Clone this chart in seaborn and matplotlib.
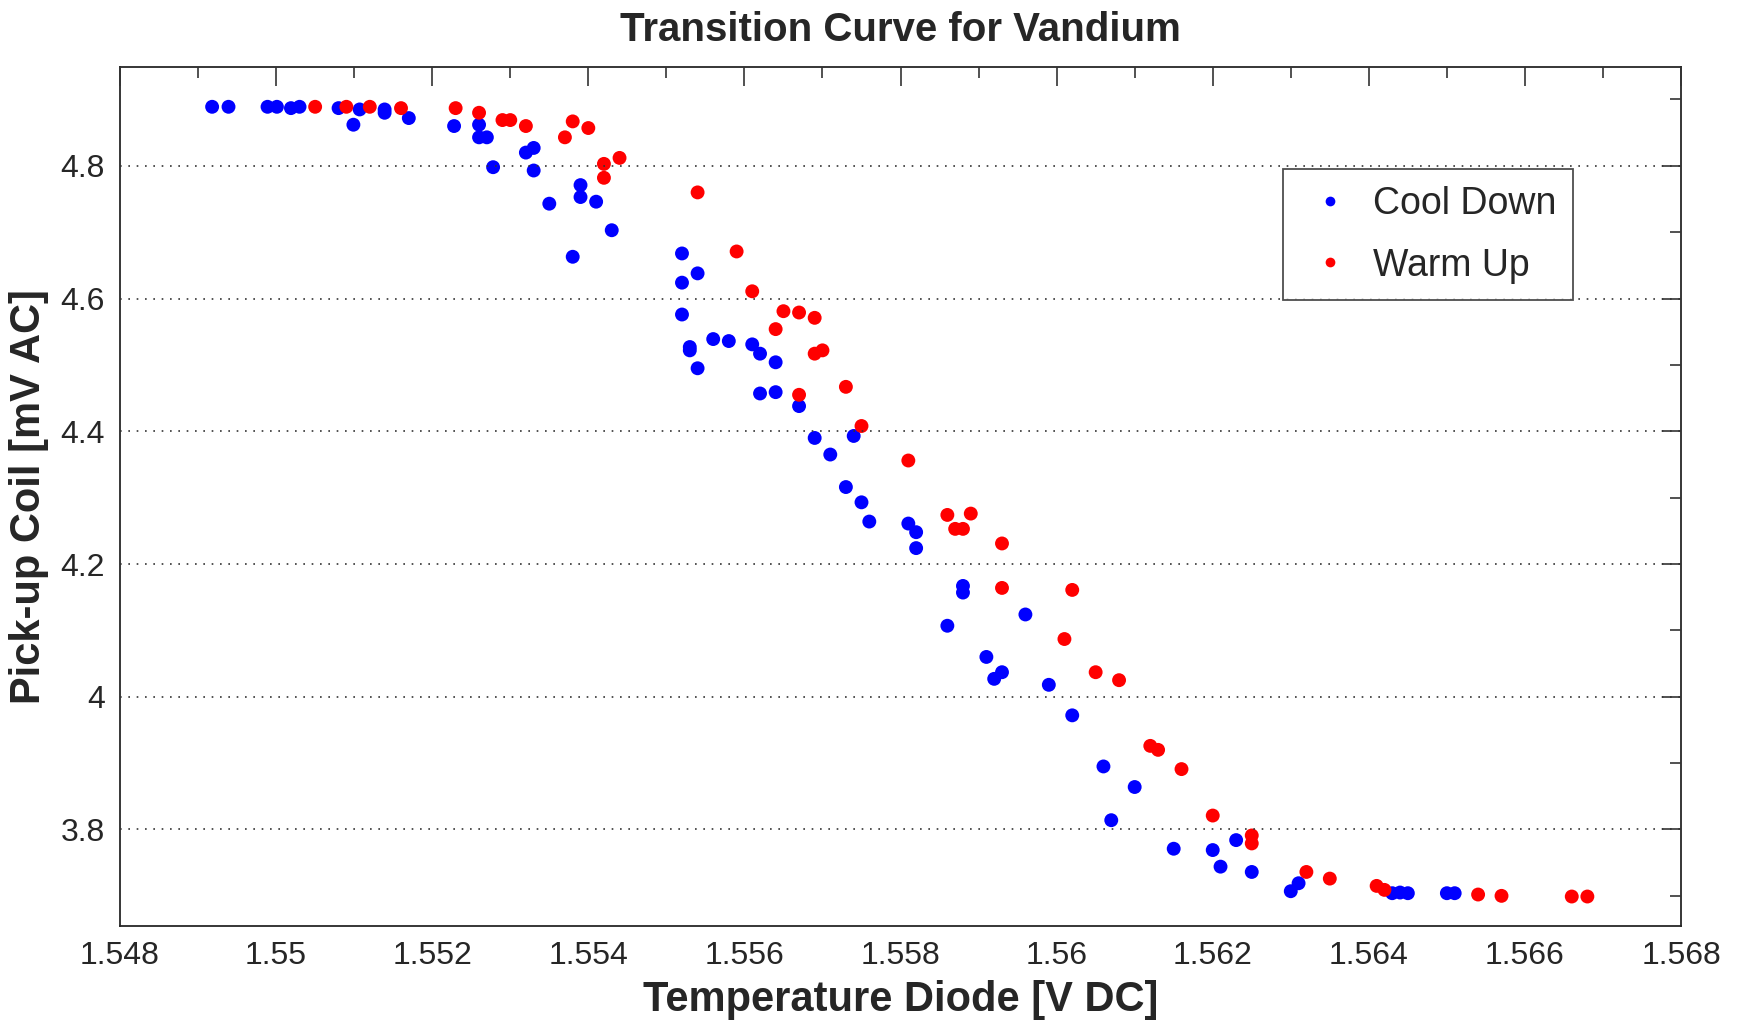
import numpy as np
import pandas as pd
import matplotlib
matplotlib.use("Agg")
import matplotlib.pyplot as plt
import seaborn as sns
from matplotlib.ticker import MultipleLocator, FormatStrFormatter

# ---- data ----
cool_x = [1.54918, 1.54939, 1.54989, 1.55001, 1.55019, 1.55030, 1.55080, 1.55099,
          1.55107, 1.55139, 1.55139, 1.55170, 1.55228, 1.55260, 1.55260, 1.55270,
          1.55278, 1.55320, 1.55330, 1.55330, 1.55350, 1.55380, 1.55390, 1.55390,
          1.55410, 1.55430, 1.55520, 1.55520, 1.55540, 1.55520, 1.55530, 1.55530,
          1.55540, 1.55560, 1.55580, 1.55610, 1.55620, 1.55640, 1.55620, 1.55640,
          1.55670, 1.55690, 1.55710, 1.55730, 1.55740, 1.55750, 1.55760, 1.55810,
          1.55820, 1.55820, 1.55860, 1.55880, 1.55880, 1.55910, 1.55920, 1.55930,
          1.55960, 1.55990, 1.56020, 1.56060, 1.56070, 1.56100, 1.56150, 1.56200,
          1.56210, 1.56230, 1.56250, 1.56300, 1.56310, 1.56430, 1.56440, 1.56450,
          1.56500, 1.56510]
cool_y = [4.889, 4.889, 4.889, 4.889, 4.887, 4.889, 4.887, 4.862,
          4.885, 4.885, 4.880, 4.872, 4.860, 4.862, 4.843, 4.843,
          4.798, 4.820, 4.827, 4.793, 4.743, 4.663, 4.771, 4.753,
          4.746, 4.703, 4.668, 4.624, 4.638, 4.576, 4.527, 4.522,
          4.495, 4.539, 4.536, 4.531, 4.517, 4.504, 4.457, 4.459,
          4.438, 4.390, 4.365, 4.316, 4.393, 4.293, 4.264, 4.261,
          4.248, 4.224, 4.107, 4.167, 4.157, 4.060, 4.027, 4.037,
          4.124, 4.018, 3.972, 3.895, 3.814, 3.864, 3.771, 3.769,
          3.744, 3.784, 3.736, 3.707, 3.719, 3.704, 3.705, 3.704,
          3.704, 3.704]

warm_x = [1.55050, 1.55090, 1.55120, 1.55160, 1.55230, 1.55260, 1.55290, 1.55300,
          1.55320, 1.55370, 1.55380, 1.55400, 1.55420, 1.55420, 1.55440, 1.55540,
          1.55590, 1.55610, 1.55650, 1.55670, 1.55690, 1.55640, 1.55690, 1.55700,
          1.55670, 1.55730, 1.55750, 1.55810, 1.55860, 1.55870, 1.55880, 1.55890,
          1.55930, 1.55930, 1.56020, 1.56010, 1.56050, 1.56080, 1.56120, 1.56130,
          1.56160, 1.56200, 1.56250, 1.56250, 1.56320, 1.56350, 1.56410, 1.56420,
          1.56540, 1.56570, 1.56660, 1.56680]
warm_y = [4.889, 4.889, 4.889, 4.887, 4.887, 4.880, 4.869, 4.869,
          4.860, 4.843, 4.867, 4.857, 4.803, 4.782, 4.812, 4.760,
          4.671, 4.611, 4.581, 4.579, 4.571, 4.554, 4.517, 4.522,
          4.455, 4.467, 4.408, 4.356, 4.274, 4.253, 4.253, 4.276,
          4.231, 4.164, 4.161, 4.087, 4.037, 4.025, 3.926, 3.920,
          3.891, 3.821, 3.791, 3.779, 3.736, 3.726, 3.715, 3.709,
          3.702, 3.700, 3.699, 3.699]

series_names = ["Cool Down", "Warm Up"]
series_colors = ["#0000ff", "#ff0000"]

title_text = "Transition Curve for Vandium"
xlabel_text = "Temperature Diode [V DC]"
ylabel_text = "Pick-up Coil [mV AC]"

df = pd.DataFrame({
    "x": cool_x + warm_x,
    "y": cool_y + warm_y,
    "series": [series_names[0]] * len(cool_x) + [series_names[1]] * len(warm_x),
})

sns.set_style("white")
plt.rcParams["font.family"] = ["Liberation Sans", "DejaVu Sans"]

fig = plt.figure(figsize=(17.42, 10.21), dpi=100)
ax = fig.add_axes([0.0689, 0.093, 0.8961, 0.8414])

sns.scatterplot(data=df, x="x", y="y", hue="series",
                palette=dict(zip(series_names, series_colors)),
                s=100, linewidth=0, edgecolor="none", ax=ax, legend=False)

ax.set_xlim(1.548, 1.568)
ax.set_ylim(3.6545, 4.949)

ax.xaxis.set_major_locator(MultipleLocator(0.002))
ax.xaxis.set_minor_locator(MultipleLocator(0.001))
ax.yaxis.set_major_locator(MultipleLocator(0.2))
ax.yaxis.set_minor_locator(MultipleLocator(0.1))

def fmt_x(v, pos):
    return f"{v:.3f}".rstrip("0").rstrip(".")
def fmt_y(v, pos):
    return f"{v:.1f}".rstrip("0").rstrip(".")
ax.xaxis.set_major_formatter(matplotlib.ticker.FuncFormatter(fmt_x))
ax.yaxis.set_major_formatter(matplotlib.ticker.FuncFormatter(fmt_y))

ax.tick_params(which="both", direction="in", top=True, right=True,
               color="#333333", width=1.2)
ax.tick_params(which="major", length=14, labelsize=23, pad=11)
ax.tick_params(which="minor", length=8)

for sp in ax.spines.values():
    sp.set_color("#262626")
    sp.set_linewidth(1.3)

ax.yaxis.grid(True, which="major", linestyle=(0, (1, 4)), color="#333333", linewidth=1.2)
ax.xaxis.grid(False)
ax.set_axisbelow(False)

ax.set_title(title_text, fontsize=29, fontweight="bold", pad=19)
ax.set_xlabel(xlabel_text, fontsize=30, fontweight="bold", labelpad=6)
ax.set_ylabel(ylabel_text, fontsize=30, fontweight="bold", labelpad=8)

from matplotlib.lines import Line2D
handles = [Line2D([], [], marker="o", linestyle="none", color=c, markersize=7,
                  markeredgewidth=0) for c in series_colors]
leg = ax.legend(handles, series_names, loc="upper left",
                bbox_to_anchor=(0.745, 0.881), fontsize=27, frameon=True,
                fancybox=False, edgecolor="#222222", borderpad=0.45,
                handletextpad=0.35, labelspacing=0.68, handlelength=1.6,
                borderaxespad=0)
leg.get_frame().set_linewidth(1.3)

fig.savefig("out.png", dpi=100)
